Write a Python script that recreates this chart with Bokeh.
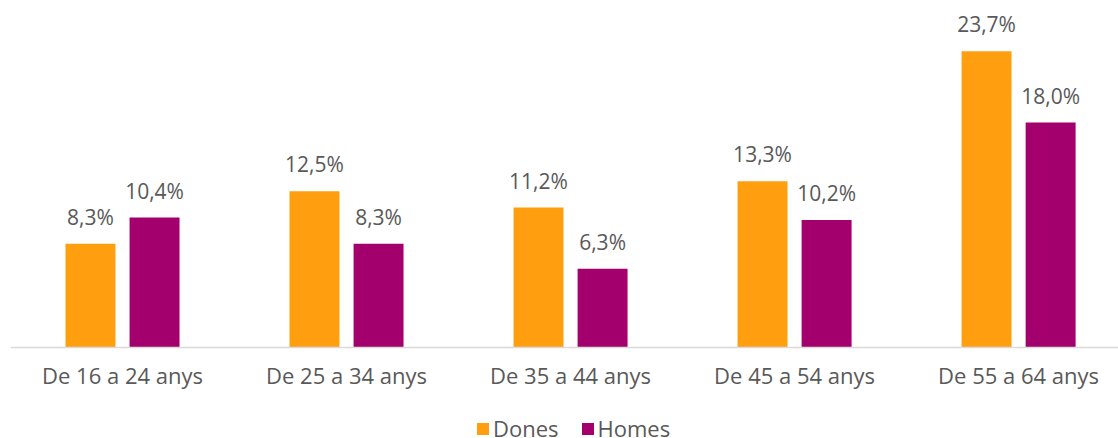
from bokeh.plotting import figure
from bokeh.models import ColumnDataSource, FixedTicker, Legend, LegendItem, Range1d
from bokeh.core.properties import value
from bokeh.embed import file_html
from bokeh.resources import INLINE

categories = ["De 16 a 24 anys", "De 25 a 34 anys", "De 35 a 44 anys", "De 45 a 54 anys", "De 55 a 64 anys"]
dones = [8.3, 12.5, 11.2, 13.3, 23.7]
homes = [10.4, 8.3, 6.3, 10.2, 18.0]
series_names = ["Dones", "Homes"]

FONT = "Open Sans"
TXT = "#595959"
C_D = "#FF9F0F"
C_H = "#A3006D"

xs = list(range(len(categories)))
off = 0.143
bw = 0.223

def fmt(v):
    return f"{v:.1f}".replace(".", ",") + "%"

src_d = ColumnDataSource(dict(x=[i - off for i in xs], top=dones, lab=[fmt(v) for v in dones]))
src_h = ColumnDataSource(dict(x=[i + off for i in xs], top=homes, lab=[fmt(v) for v in homes]))

p = figure(frame_width=1108, frame_height=430, output_backend="svg", toolbar_location=None,
           x_range=Range1d(-0.5, 4.446), y_range=Range1d(-7.28, 27.12))
p.min_border_left = 10
p.min_border_right = 0
p.min_border_top = 8
p.min_border_bottom = 0
p.outline_line_color = None
p.grid.visible = False
p.yaxis.visible = False
p.background_fill_color = "white"
p.border_fill_color = "white"

rd = p.vbar(x="x", top="top", width=bw, source=src_d, fill_color=C_D, line_color=None)
rh = p.vbar(x="x", top="top", width=bw, source=src_h, fill_color=C_H, line_color=None)

for s in (src_d, src_h):
    p.text(x="x", y="top", text="lab", source=s, text_align="center", text_baseline="alphabetic",
           y_offset=-27, text_font=value(FONT), text_font_size="21px", text_color=TXT)

xa = p.xaxis[0]
xa.fixed_location = 0
xa.ticker = FixedTicker(ticks=xs)
xa.major_label_overrides = {i: c for i, c in enumerate(categories)}
xa.major_tick_line_color = None
xa.minor_tick_line_color = None
xa.major_tick_out = 0
xa.major_label_standoff = 12
xa.axis_line_color = "#D9D9D9"
xa.axis_line_width = 1.5
xa.major_label_text_font = FONT
xa.major_label_text_font_size = "22px"
xa.major_label_text_color = TXT

legend = Legend(items=[LegendItem(label=series_names[0], renderers=[rd]),
                       LegendItem(label=series_names[1], renderers=[rh])],
                orientation="horizontal", location=(465, -5),
                label_text_font=FONT, label_text_font_size="22px", label_text_color=TXT,
                glyph_width=15, glyph_height=15, spacing=21, label_standoff=3, label_height=15,
                border_line_color=None, background_fill_alpha=0, padding=0, margin=0)
p.add_layout(legend, "center")

open("out.html", "w").write(file_html(p, INLINE))
